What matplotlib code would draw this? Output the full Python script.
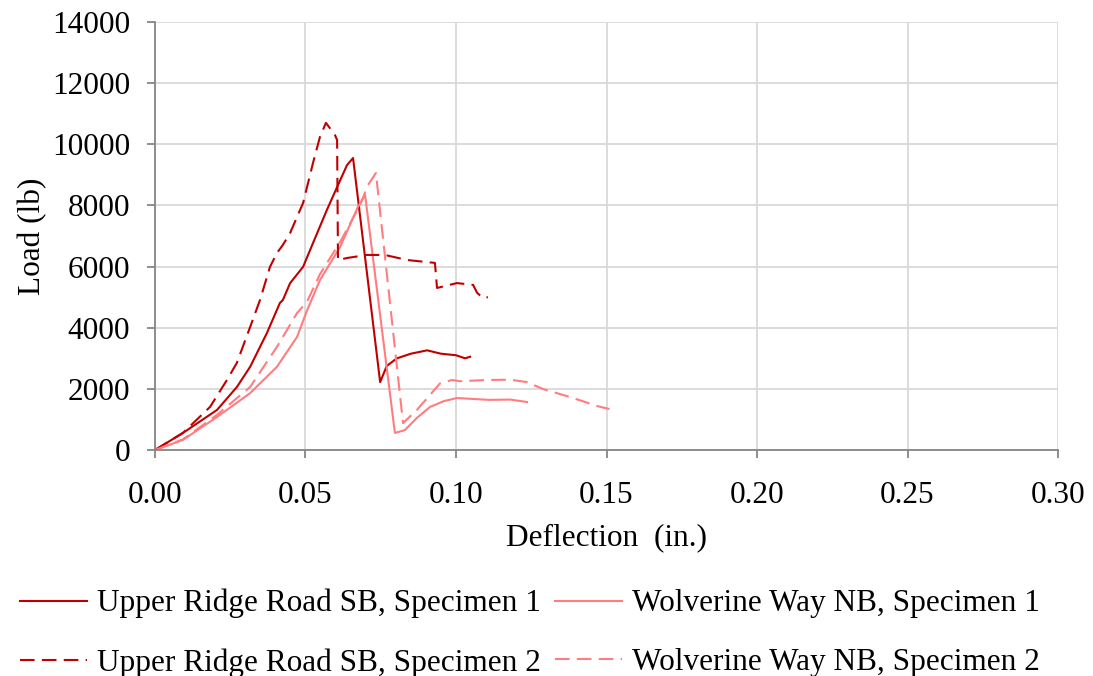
import matplotlib
matplotlib.use("Agg")
import matplotlib.pyplot as plt
from matplotlib.ticker import MultipleLocator, FormatStrFormatter

plt.rcParams['font.family'] = ['Liberation Serif', 'DejaVu Serif']

# load-deflection curves (in., lb)
ur1_x = [0.0, 0.0093, 0.0206, 0.0272, 0.0316, 0.0372, 0.0415, 0.0425, 0.0449, 0.0492,
         0.0525, 0.0571, 0.0605, 0.0638, 0.0658, 0.0748, 0.0770, 0.0804, 0.0850,
         0.0904, 0.0950, 0.1000, 0.1030, 0.1047]
ur1_y = [0, 560, 1310, 2060, 2720, 3830, 4810, 4910, 5460, 5990,
         6770, 7850, 8600, 9320, 9550, 2220, 2750, 3000, 3150,
         3260, 3150, 3100, 3000, 3050]

ur2_x = [0.0, 0.0093, 0.0183, 0.0239, 0.0272, 0.0316, 0.0349, 0.0382, 0.0405, 0.0425,
         0.0449, 0.0492, 0.0525, 0.0548, 0.0568, 0.0598, 0.0605, 0.0608, 0.0638,
         0.0704, 0.0764, 0.0837, 0.0930, 0.0937, 0.1003, 0.1057, 0.1070, 0.1090, 0.1106]
ur2_y = [0, 560, 1410, 2290, 2850, 4020, 4910, 5990, 6440, 6710,
         7100, 8080, 9390, 10240, 10700, 10300, 10140, 6215, 6280,
         6380, 6380, 6215, 6120, 5300, 5460, 5400, 5140, 4970, 5000]

wv1_x = [0.0, 0.0093, 0.0206, 0.0316, 0.0405, 0.0472, 0.0505, 0.0548, 0.0615, 0.0674,
         0.0698, 0.0797, 0.0830, 0.0870, 0.0914, 0.0960, 0.1003, 0.1110, 0.1180, 0.1236]
wv1_y = [0, 330, 1080, 1860, 2720, 3700, 4560, 5560, 6640, 7950,
         8340, 560, 650, 1050, 1410, 1600, 1700, 1640, 1650, 1570]

wv2_x = [0.0, 0.0093, 0.0206, 0.0316, 0.0405, 0.0472, 0.0505, 0.0548, 0.0615, 0.0681,
         0.0708, 0.0734, 0.0824, 0.0870, 0.0947, 0.0987, 0.1013, 0.1100, 0.1180, 0.1236,
         0.1290, 0.1356, 0.1420, 0.1468, 0.1510]
wv2_y = [0, 350, 1150, 2060, 3370, 4480, 4850, 5750, 6800, 8010,
         8670, 9060, 880, 1310, 2180, 2290, 2250, 2290, 2300, 2220,
         1990, 1800, 1600, 1440, 1340]

labels = ["Upper Ridge Road SB, Specimen 1", "Wolverine Way NB, Specimen 1",
          "Upper Ridge Road SB, Specimen 2", "Wolverine Way NB, Specimen 2"]

dark = "#C00000"
light = "#FF7C80"
fs = 22.5

fig = plt.figure(figsize=(10.93, 6.76), dpi=100)
ax = fig.add_axes([0.1418, 0.3343, 0.8262, 0.6332])

l1, = ax.plot(ur1_x, ur1_y, color=dark, lw=1.5)
l2, = ax.plot(wv1_x, wv1_y, color=light, lw=1.5)
l3, = ax.plot(ur2_x, ur2_y, color=dark, lw=1.5, dashes=(7, 3.5))
l4, = ax.plot(wv2_x, wv2_y, color=light, lw=1.5, dashes=(7, 3.5))

ax.set_xlim(0, 0.30)
ax.set_ylim(0, 14000)
ax.xaxis.set_major_locator(MultipleLocator(0.05))
ax.xaxis.set_major_formatter(FormatStrFormatter('%.2f'))
ax.yaxis.set_major_locator(MultipleLocator(2000))
ax.grid(True, color="#D9D9D9", lw=1.3)
ax.set_axisbelow(True)

for side in ("top", "right"):
    ax.spines[side].set_visible(False)
for side in ("left", "bottom"):
    ax.spines[side].set_color("#868686")
    ax.spines[side].set_linewidth(1.3)
ax.tick_params(colors="#868686", labelcolor="black", labelsize=fs,
               length=6, width=1.3, direction="out")
ax.tick_params(axis="y", pad=12)
ax.tick_params(axis="x", pad=16)

ax.set_xlabel("Deflection  (in.)", fontsize=fs, labelpad=10)
ax.set_ylabel("Load (lb)", fontsize=fs, labelpad=3)

# legend filled column-wise, so pass the handles in column order
fig.legend([l1, l3, l2, l4], [labels[0], labels[2], labels[1], labels[3]],
           ncol=2, loc="upper left", bbox_to_anchor=(20 / 1093, 1 - 589 / 676),
           frameon=False, fontsize=fs, borderpad=0, borderaxespad=0,
           handlelength=2.15, handletextpad=0.32, columnspacing=0.45,
           labelspacing=0.95)

fig.savefig("out.png", dpi=100)
